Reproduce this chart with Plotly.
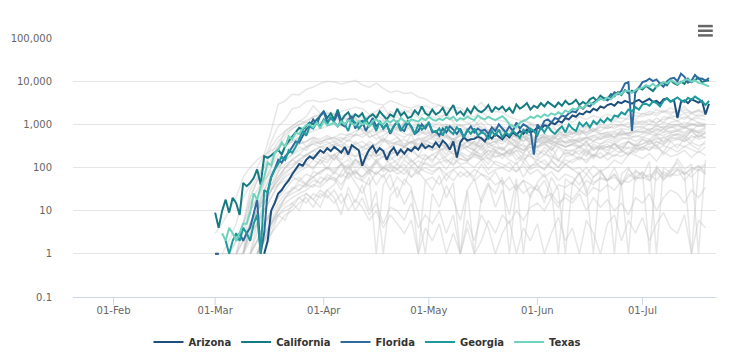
import pandas as pd
import plotly.graph_objects as go

N = None
# daily values, 2020-03-01 .. 2020-07-20
start_day = "2020-03-01"
arizona = [1, 1, N, N, N, N, N,
           N, N, N, N, N, N, N,
           1, 2, 10, 15, 25, 30, 40,
           50, 70, 90, 120, 110, 150, 180,
           160, 200, 250, 220, 280, 240, 300,
           260, 220, 300, 200, 330, 280, 250,
           110, 180, 260, 320, 220, 280, 240,
           150, 230, 290, 200, 260, 210, 270,
           240, 300, 260, 350, 280, 320, 290,
           380, 300, 420, 350, 260, 400, 170,
           380, 500, 420, 450, 460, 520, 480,
           400, 550, 470, 600, 520, 450, 580,
           500, 650, 560, 700, 600, 750, 650,
           700, 850, 780, 950, 900, 1100, 1000,
           1200, 1100, 1400, 1300, 1600, 1500, 1800,
           1700, 2000, 1900, 2300, 2100, 2600, 2400,
           2800, 3000, 2700, 3300, 3100, 3500, 3200,
           3000, 3400, 3700, 3200, 3600, 3900, 3300,
           3500, 3000, 3800, 4000, 3400, 3700, 1400,
           3300, 3600, 3100, 3800, 3500, 3200, 3500,
           1700, 3000]
california = [9, 4, 10, 18, 9, 20, 15,
              8, 44, 37, 44, 57, 90, 40,
              183, 168, 190, 220, 260, 200, 315,
              410, 530, 660, 830, 760, 910, 1100,
              1000, 1300, 1550, 2000, 1400, 1800, 1300,
              2200, 1200, 1600, 1900, 1300, 1700, 1500,
              1800, 1200, 1500, 1700, 1400, 2000, 1600,
              1300, 1700, 1500, 2300, 1600, 1900, 1400,
              1500, 2100, 1700, 2600, 1800, 1600, 2200,
              1700, 1900, 2400, 1600, 2100, 2800, 1700,
              2000, 1600, 2300, 1800, 2600, 2100, 1900,
              2200, 2800, 1900, 2500, 2200, 2600, 2000,
              2400, 1800, 2900, 2300, 2600, 3100, 2200,
              2700, 2400, 3100, 2600, 3300, 2800, 2500,
              3200, 2700, 3500, 2900, 3100, 3700, 2800,
              3300, 2900, 3800, 4200, 3500, 4600, 4000,
              3900, 5000, 4500, 5600, 4800, 6200, 5200,
              6000, 5500, 7100, 6400, 7800, 6800, 5900,
              7500, 8600, 9200, 8000, 10500, 9000, 8200,
              9700, 8600, 11400, 9400, 10800, 12000, 9500,
              10200, 10300]
florida = [1, 1, N, N, N, N, 2,
           3, 2, 3, 4, 8, 18, 1,
           3, 28, 60, 90, 150, 130, 180,
           220, 300, 400, 380, 550, 770, 900,
           1300, 1000, 1600, 2000, 1100, 1400, 1200,
           1800, 1000, 900, 1300, 1500, 800, 1100,
           1200, 700, 1000, 1400, 900, 1100, 800,
           1000, 600, 900, 1200, 800, 700, 1100,
           900, 600, 700, 1000, 800, 1100, 650,
           700, 550, 800, 650, 900, 750, 600,
           800, 500, 700, 900, 650, 800, 700,
           750, 600, 850, 700, 1000, 800, 650,
           900, 700, 1100, 800, 1000, 900, 750,
           200, 1000, 800, 1200, 1300, 1100, 1400,
           1300, 1600, 1500, 1800, 2000, 1900, 2600,
           2300, 2800, 2600, 3200, 3600, 3900, 4000,
           3600, 4100, 5500, 5000, 6000, 8800, 9500,
           700, 6000, 7000, 9500, 10100, 11400, 10000,
           11000, 8800, 7400, 9800, 11400, 12000, 10000,
           15000, 12600, 9200, 10200, 13900, 11400, 11500,
           10300, 11800]
georgia = [N, N, N, 2, 1, 2, 3,
           2, 4, 3, 2, 5, 8, 1,
           30, 26, 60, 90, 120, 180, 150,
           250, 220, 300, 450, 700, 550, 900,
           800, 1100, 900, 1300, 1000, 1500, 1100,
           900, 1200, 1000, 700, 1300, 1100, 800,
           1000, 1400, 900, 1100, 700, 1200, 800,
           1000, 650, 900, 1100, 700, 950, 1200,
           850, 600, 1000, 750, 900, 1100, 700,
           650, 800, 550, 900, 700, 600, 850,
           700, 500, 750, 600, 800, 550, 650,
           600, 450, 700, 550, 750, 500, 650,
           550, 700, 600, 480, 750, 620, 800,
           700, 550, 850, 650, 900, 700, 600,
           750, 900, 650, 1000, 800, 700, 1100,
           900, 1100, 850, 1200, 1000, 1300, 1100,
           1400, 1200, 1600, 1500, 1900, 1700, 2200,
           2000, 2500, 2200, 2900, 3000, 2700, 3400,
           3100, 2600, 3500, 4000, 3300, 3800, 4200,
           3600, 3300, 4100, 3700, 4400, 3900, 3400,
           2800, 3500]
texas = [N, N, 3, 2, 4, 3, 2,
         3, 5, 5, 9, 25, 18, 36,
         60, 130, 110, 220, 250, 380, 300,
         530, 450, 640, 600, 800, 950, 1000,
         850, 1100, 800, 1200, 950, 1000, 1100,
         900, 1150, 1000, 1250, 1050, 950, 1200,
         1000, 1100, 900, 1200, 1300, 1100, 1000,
         1250, 1100, 1300, 1050, 1400, 1200, 1100,
         1300, 1200, 1150, 1400, 1250, 1500, 1300,
         1200, 1350, 1250, 1450, 1300, 1500, 1200,
         1400, 1300, 1500, 1350, 1250, 1600, 1400,
         1300, 1500, 1350, 1250, 1400, 1550, 1300,
         1000, 900, 850, 1100, 1200, 1300, 1500,
         1400, 1600, 1450, 1700, 1550, 1800, 1650,
         1900, 1700, 2100, 1900, 2300, 2200, 2500,
         2400, 2800, 3200, 2900, 3500, 4000, 3600,
         4200, 3800, 4700, 5300, 5000, 5900, 6100,
         5400, 6200, 6700, 7000, 8100, 7500, 8700,
         7300, 8200, 9600, 8900, 10400, 9700, 8600,
         9500, 10600, 11000, 9800, 10400, 9100, 8800,
         8000, 7600]

# other states, every second day from 2020-03-01
others = [
    [1, 1, 2, 5, 20, 40, 100, 200, 700, 2900, 3500, 5000, 4800, 6400, 7300, 8800, 10000, 9500, 8600, 9400, 10500, 8200, 7200, 9000, 6800, 5500, 6000, 5200, 5400, 4300, 3900, 3100, 2800, 2500, 2200, 1900, 1600, 1500, 2100, 1400, 1300, 1200, 1100, 900, 1300, 1000, 900, 1050, 800, 700, 850, 600, 700, 650, 800, 620, 550, 660, 580, 620, 700, 650, 720, 600, 780, 640, 700, 820, 760, 640, 700],
    [N, N, 1, 2, 5, 20, 50, 150, 400, 900, 1300, 2300, 2500, 3400, 3600, 3300, 3500, 4000, 3600, 3800, 3900, 3200, 3600, 3000, 2800, 3500, 3100, 2600, 2400, 2800, 2000, 1900, 1500, 1700, 1200, 1300, 1100, 900, 1400, 1000, 800, 700, 600, 500, 650, 400, 450, 380, 420, 350, 300, 330, 280, 400, 250, 300, 350, 260, 300, 280, 220, 300, 250, 340, 200, 280, 230, 310, 260, 220, 300],
    [N, 1, 1, 2, 5, 10, 20, 40, 100, 200, 300, 460, 600, 550, 900, 1100, 1200, 1300, 1400, 1300, 1500, 1200, 1500, 1700, 1300, 2000, 1600, 2200, 1800, 2500, 2700, 2300, 2800, 2100, 2500, 2400, 1800, 2300, 3200, 2100, 2000, 1900, 1500, 1300, 1200, 1100, 900, 800, 1000, 650, 700, 600, 750, 550, 700, 600, 650, 500, 750, 600, 850, 900, 700, 1000, 800, 1100, 1200, 900, 1300, 1100, 1000],
    [N, N, 1, 1, 5, 30, 60, 100, 200, 400, 600, 800, 1000, 1100, 1000, 1100, 1200, 1500, 2000, 2200, 2500, 2300, 1700, 2000, 2600, 1500, 2000, 1800, 2200, 1400, 1900, 1500, 1300, 1800, 1100, 900, 1000, 1200, 800, 700, 900, 600, 700, 500, 400, 600, 300, 450, 350, 300, 250, 250, 200, 280, 180, 220, 150, 200, 180, 230, 190, 160, 210, 140, 230, 180, 200, 250, 170, 240, 190],
    [N, N, N, 2, 5, 15, 30, 60, 150, 300, 700, 900, 1200, 1100, 1500, 1700, 1900, 1700, 1600, 1500, 1800, 1400, 1600, 1300, 1200, 1400, 1500, 1100, 1200, 1000, 1300, 900, 1100, 800, 950, 700, 800, 650, 700, 600, 550, 500, 450, 600, 400, 500, 380, 450, 350, 420, 400, 450, 380, 500, 420, 460, 500, 600, 550, 650, 700, 800, 750, 900, 850, 950, 1000, 850, 1050, 900, 950],
    [N, N, N, N, 1, 20, 50, 100, 300, 500, 700, 900, 1200, 1500, 2700, 1800, 1500, 1800, 900, 1200, 1400, 700, 500, 600, 400, 700, 500, 300, 600, 250, 400, 350, 500, 300, 450, 300, 400, 250, 500, 300, 350, 600, 400, 300, 500, 350, 400, 600, 500, 700, 550, 800, 600, 900, 700, 1000, 900, 1200, 1100, 1500, 1300, 1800, 1600, 2200, 1900, 2400, 2000, 2600, 1800, 2200, 1900],
    [N, N, N, N, N, 2, 10, 50, 100, 300, 500, 800, 1000, 1200, 1500, 1600, 1800, 1700, 1500, 1300, 1400, 1000, 1100, 800, 900, 1000, 700, 1100, 800, 900, 600, 700, 500, 600, 400, 550, 450, 300, 500, 350, 400, 250, 400, 300, 350, 200, 250, 200, 300, 150, 220, 200, 250, 180, 300, 260, 300, 280, 350, 400, 330, 450, 400, 550, 380, 500, 600, 550, 700, 500, 650],
    [3, 5, 10, 20, 60, 100, 150, 200, 250, 300, 350, 400, 500, 300, 450, 350, 400, 300, 350, 250, 300, 200, 250, 180, 220, 150, 200, 160, 250, 180, 200, 150, 220, 130, 180, 160, 140, 200, 170, 250, 180, 200, 220, 300, 250, 350, 300, 400, 350, 450, 380, 400, 500, 450, 550, 480, 600, 500, 700, 550, 650, 700, 600, 800, 650, 900, 750, 900, 700, 1000, 850],
    [N, N, N, 1, 2, 5, 10, 15, 30, 60, 100, 150, 200, 300, 350, 400, 450, 500, 600, 550, 700, 800, 650, 900, 700, 1000, 850, 1100, 900, 1000, 800, 1100, 900, 1000, 850, 950, 700, 800, 900, 600, 750, 700, 550, 650, 500, 600, 450, 500, 400, 550, 350, 400, 300, 350, 280, 320, 300, 350, 250, 400, 300, 350, 400, 450, 500, 550, 600, 500, 700, 650, 600],
    [N, N, N, N, 1, 5, 10, 30, 60, 150, 250, 300, 350, 400, 500, 400, 450, 500, 400, 600, 550, 1200, 500, 600, 700, 650, 800, 600, 550, 700, 600, 500, 600, 550, 450, 650, 500, 550, 400, 600, 450, 500, 400, 450, 550, 350, 400, 500, 450, 600, 550, 500, 650, 600, 700, 850, 800, 900, 1000, 850, 1100, 1000, 1200, 1100, 1300, 1400, 1200, 1500, 1300, 1400, 1250],
    [N, N, N, N, 1, 3, 5, 15, 30, 80, 200, 250, 350, 400, 500, 450, 550, 450, 500, 400, 600, 500, 650, 450, 550, 700, 600, 500, 650, 550, 700, 550, 600, 500, 450, 550, 400, 500, 450, 350, 400, 450, 350, 400, 300, 350, 300, 400, 250, 350, 300, 350, 300, 400, 250, 350, 400, 350, 450, 500, 400, 500, 450, 600, 550, 650, 700, 600, 750, 650, 800],
    [N, N, N, 1, 2, 5, 10, 15, 30, 50, 80, 100, 150, 200, 250, 300, 350, 400, 450, 500, 550, 600, 700, 650, 750, 800, 850, 700, 900, 800, 1000, 900, 800, 950, 850, 1000, 800, 900, 1100, 700, 850, 900, 750, 800, 700, 900, 600, 500, 550, 450, 500, 400, 450, 500, 400, 550, 500, 450, 600, 550, 500, 600, 650, 700, 750, 800, 900, 850, 1000, 900, 950],
    [N, N, N, 1, 1, 3, 5, 10, 30, 50, 100, 120, 150, 200, 250, 300, 300, 350, 400, 300, 250, 300, 350, 250, 400, 350, 400, 450, 350, 500, 400, 500, 450, 550, 400, 600, 550, 700, 650, 750, 700, 800, 700, 900, 750, 1000, 800, 1000, 1200, 900, 1300, 1100, 1500, 1300, 1600, 1400, 1700, 1500, 1800, 1600, 1900, 1700, 2000, 1800, 2100, 1900, 2000, 2200, 1900, 2100, 1800],
    [N, N, N, N, 1, 5, 10, 20, 50, 100, 150, 200, 250, 300, 350, 300, 250, 350, 300, 200, 400, 300, 250, 350, 500, 300, 400, 300, 250, 450, 350, 300, 400, 250, 350, 300, 400, 350, 300, 450, 400, 350, 500, 400, 550, 450, 500, 600, 450, 700, 550, 600, 750, 650, 800, 700, 900, 800, 1000, 850, 1200, 1100, 1300, 1000, 1500, 1400, 1600, 1300, 1800, 1500, 1700],
    [N, N, N, N, N, 1, 5, 15, 40, 80, 120, 150, 200, 180, 250, 200, 220, 150, 250, 200, 180, 250, 300, 200, 180, 250, 200, 300, 250, 350, 300, 250, 350, 300, 400, 350, 300, 400, 350, 500, 450, 400, 600, 350, 500, 400, 450, 550, 400, 600, 500, 650, 550, 800, 700, 900, 800, 1000, 900, 1100, 1000, 1200, 1000, 1400, 1100, 1600, 1500, 1800, 1300, 1700, 1500],
    [N, N, N, N, 1, 5, 10, 20, 40, 60, 100, 150, 120, 200, 180, 150, 200, 150, 250, 180, 120, 150, 100, 130, 180, 120, 150, 200, 130, 180, 150, 200, 150, 180, 250, 200, 150, 200, 180, 250, 220, 200, 250, 300, 250, 350, 400, 350, 500, 450, 600, 700, 800, 900, 1000, 1100, 1200, 1300, 1400, 1300, 1600, 1500, 1800, 1600, 2000, 1700, 2100, 1900, 1800, 2000, 1700],
    [N, N, N, 1, 3, 10, 20, 50, 80, 100, 150, 200, 300, 250, 400, 350, 500, 400, 300, 450, 350, 400, 300, 350, 450, 400, 500, 350, 400, 300, 450, 350, 400, 300, 350, 250, 300, 250, 200, 300, 250, 200, 250, 150, 200, 180, 150, 200, 180, 150, 120, 150, 180, 130, 200, 170, 200, 250, 220, 300, 270, 300, 350, 400, 330, 450, 500, 400, 550, 450, 500],
    [N, N, N, N, 1, 2, 10, 30, 70, 150, 300, 400, 500, 600, 700, 800, 900, 1000, 1100, 900, 1300, 700, 1000, 800, 1200, 900, 800, 1000, 700, 600, 900, 500, 700, 600, 450, 400, 500, 350, 300, 400, 250, 300, 200, 250, 150, 200, 120, 150, 100, 80, 120, 90, 70, 100, 60, 80, 50, 70, 40, 90, 60, 80, 50, 100, 70, 60, 90, 50, 80, 110, 70],
    [N, N, N, N, 1, 3, 10, 20, 30, 40, 50, 60, 50, 70, 60, 80, 100, 90, 120, 100, 150, 130, 200, 180, 250, 300, 350, 300, 400, 450, 500, 600, 500, 700, 550, 650, 700, 600, 750, 650, 800, 700, 600, 500, 650, 550, 450, 500, 400, 350, 300, 350, 400, 300, 400, 350, 450, 400, 500, 450, 550, 500, 600, 550, 650, 700, 750, 650, 800, 700, 850],
    [N, N, N, N, N, 2, 5, 10, 20, 40, 70, 100, 150, 120, 200, 180, 150, 200, 120, 150, 100, 130, 80, 150, 100, 120, 90, 150, 110, 140, 120, 100, 130, 150, 120, 160, 140, 180, 150, 200, 170, 200, 180, 250, 220, 300, 280, 350, 300, 400, 380, 450, 400, 500, 550, 600, 650, 700, 800, 750, 900, 850, 1000, 900, 1100, 1000, 950, 1100, 1000, 900, 1050],
    [N, N, N, N, N, 1, 2, 5, 10, 20, 30, 50, 60, 40, 80, 70, 100, 80, 120, 90, 150, 100, 70, 130, 80, 110, 90, 120, 60, 100, 80, 70, 100, 50, 90, 110, 80, 60, 120, 70, 90, 100, 80, 130, 60, 110, 120, 90, 150, 100, 180, 200, 150, 250, 180, 300, 250, 350, 300, 400, 280, 450, 350, 500, 400, 600, 550, 450, 700, 500, 650],
    [N, N, N, N, N, N, 1, 3, 5, 10, 20, 25, 30, 40, 35, 60, 50, 80, 60, 100, 70, 120, 90, 150, 180, 200, 250, 300, 400, 350, 500, 450, 400, 500, 350, 450, 300, 400, 250, 350, 300, 280, 200, 350, 250, 300, 200, 250, 150, 300, 200, 250, 300, 200, 350, 280, 300, 350, 250, 400, 320, 350, 450, 300, 500, 400, 450, 550, 400, 600, 500],
    [N, N, N, N, N, 1, 3, 10, 20, 40, 60, 80, 100, 120, 90, 150, 130, 200, 150, 250, 180, 200, 150, 300, 250, 200, 250, 200, 300, 180, 350, 250, 300, 200, 350, 280, 300, 250, 350, 200, 300, 250, 350, 300, 200, 400, 300, 350, 250, 400, 300, 350, 450, 400, 500, 450, 550, 500, 650, 600, 700, 650, 800, 750, 900, 850, 1000, 800, 950, 1100, 900],
    [N, N, N, N, N, 1, 2, 5, 8, 15, 25, 30, 40, 35, 50, 45, 60, 50, 70, 55, 80, 60, 90, 70, 100, 80, 120, 90, 150, 100, 130, 110, 140, 90, 160, 120, 130, 100, 150, 90, 140, 120, 100, 80, 130, 90, 110, 90, 140, 100, 150, 130, 170, 150, 200, 160, 220, 180, 250, 200, 280, 250, 300, 270, 320, 280, 350, 300, 380, 320, 360],
    [N, N, N, N, N, N, 1, 2, 5, 10, 20, 30, 50, 40, 60, 80, 100, 70, 120, 60, 90, 50, 80, 40, 70, 30, 60, 40, 100, 70, 150, 200, 250, 300, 200, 350, 250, 200, 300, 150, 250, 200, 150, 120, 180, 100, 150, 120, 100, 80, 120, 90, 100, 70, 110, 80, 100, 150, 120, 200, 250, 300, 250, 400, 350, 500, 450, 400, 500, 550, 480],
    [N, N, N, N, N, N, 1, 2, 3, 5, 8, 10, 15, 20, 12, 25, 20, 30, 15, 25, 10, 20, 8, 15, 5, 12, 10, 6, 15, 4, 8, 5, 10, 3, 8, 1, 6, 2, 8, 4, 1, 3, 6, 1, 4, 2, 5, 1, 3, 7, 2, 4, 1, 6, 3, 1, 5, 8, 2, 6, 3, 7, 2, 5, 9, 4, 3, 8, 1, 6, 4],
    [N, N, N, N, N, N, N, 1, 3, 8, 12, 15, 20, 25, 18, 30, 22, 15, 25, 10, 18, 12, 6, 10, 4, 8, 5, 3, 6, 1, 4, 2, 5, 1, 3, 1, 4, 1, 2, 6, 3, 8, 5, 10, 6, 12, 15, 10, 20, 12, 25, 18, 30, 22, 35, 28, 40, 30, 50, 45, 60, 55, 70, 50, 80, 65, 90, 70, 100, 85, 110],
    [N, N, N, N, N, 1, 2, 5, 10, 20, 40, 60, 80, 100, 150, 120, 180, 200, 250, 300, 350, 280, 400, 320, 450, 380, 350, 300, 400, 250, 350, 300, 250, 280, 200, 230, 180, 220, 150, 170, 120, 100, 130, 80, 110, 70, 90, 60, 80, 50, 70, 60, 40, 70, 45, 55, 50, 60, 40, 70, 55, 60, 50, 80, 55, 70, 65, 80, 60, 90, 70],
    [N, N, N, N, N, N, 1, 2, 5, 8, 10, 12, 20, 15, 25, 20, 30, 40, 80, 120, 60, 50, 40, 80, 60, 100, 70, 90, 60, 80, 50, 60, 40, 70, 50, 80, 60, 90, 70, 50, 80, 40, 60, 30, 50, 40, 30, 50, 20, 40, 35, 45, 30, 50, 40, 60, 50, 70, 40, 60, 80, 70, 60, 90, 50, 80, 100, 70, 90, 110, 80],
    [N, N, N, N, N, N, 1, 3, 5, 10, 15, 20, 25, 30, 40, 35, 50, 60, 40, 70, 80, 60, 90, 70, 100, 80, 90, 70, 110, 80, 100, 80, 100, 70, 90, 60, 80, 50, 70, 60, 40, 50, 30, 40, 25, 35, 30, 20, 25, 15, 20, 15, 25, 10, 20, 12, 18, 10, 15, 8, 20, 15, 25, 10, 20, 30, 25, 15, 30, 20, 35],
    [N, N, N, N, N, N, 1, 2, 6, 12, 20, 35, 30, 45, 60, 40, 70, 55, 30, 80, 45, 25, 60, 1, 40, 70, 20, 55, 35, 1, 50, 30, 65, 20, 45, 1, 30, 55, 15, 40, 25, 60, 1, 35, 50, 20, 45, 70, 30, 1, 55, 40, 80, 25, 60, 90, 45, 1, 70, 100, 50, 80, 1, 110, 60, 90, 130, 70, 1, 100, 120],
    [N, N, N, N, N, N, N, 1, 4, 8, 6, 15, 10, 25, 18, 12, 30, 20, 8, 35, 15, 40, 10, 28, 1, 22, 35, 14, 30, 9, 1, 25, 12, 38, 18, 6, 30, 1, 20, 45, 12, 30, 8, 55, 1, 25, 40, 15, 60, 30, 1, 45, 70, 35, 1, 80, 50, 100, 40, 1, 90, 60, 140, 1, 100, 75, 160, 90, 120, 1, 150],
    [N, N, N, N, N, N, 1, 3, 10, 25, 40, 70, 90, 120, 100, 150, 90, 180, 130, 70, 160, 110, 200, 140, 90, 180, 120, 220, 150, 100, 190, 130, 250, 160, 110, 210, 150, 260, 170, 120, 230, 160, 280, 190, 130, 250, 170, 300, 200, 140, 260, 190, 330, 230, 160, 300, 210, 380, 250, 190, 350, 260, 420, 300, 230, 400, 280, 480, 330, 260, 420],
]

highlight_names = ["Arizona", "California", "Florida", "Georgia", "Texas"]
highlight_values = [arizona, california, florida, georgia, texas]
highlight_colors = ["#1d4e7c", "#157b80", "#2e6a9e", "#1f9a9b", "#6fd3bd"]

y_tick_values = [0.1, 1, 10, 100, 1000, 10000, 100000]
y_tick_labels = ["0.1", "1", "10", "100", "1,000", "10,000", "100,000"]
x_tick_values = ["2020-02-01", "2020-03-01", "2020-04-01", "2020-05-01", "2020-06-01", "2020-07-01"]
x_tick_labels = ["01-Feb", "01-Mar", "01-Apr", "01-May", "01-Jun", "01-Jul"]

daily_dates = pd.date_range(start_day, periods=len(arizona), freq="D")
other_dates = pd.date_range(start_day, periods=len(others[0]), freq="2D")

fig = go.Figure()
for vals in others:
    fig.add_trace(go.Scatter(x=other_dates, y=vals, mode="lines",
                             line=dict(color="rgba(195,195,195,0.4)", width=1.5),
                             showlegend=False, hoverinfo="skip"))
for name, vals, col in zip(highlight_names, highlight_values, highlight_colors):
    fig.add_trace(go.Scatter(x=daily_dates, y=vals, mode="lines", name=name,
                             line=dict(color=col, width=2)))

fig.update_layout(
    width=726, height=356,
    margin=dict(l=65, r=18, t=30, b=67, autoexpand=False),
    paper_bgcolor="white", plot_bgcolor="white",
    font=dict(family="DejaVu Sans", size=11, color="#666666"),
    showlegend=True,
    legend=dict(orientation="h", x=0.458, xanchor="center",
                yref="container", y=0.062, yanchor="middle",
                font=dict(family="DejaVu Sans", size=10, color="#333333", weight="bold"),
                itemwidth=30, tracegroupgap=0),
    xaxis=dict(type="date", range=["2020-01-20 10:00", "2020-07-22 00:00"],
               tickvals=x_tick_values, ticktext=x_tick_labels,
               showgrid=False, showline=True, linecolor="#ccd6eb", linewidth=1,
               ticks="", zeroline=False, ticklabelstandoff=4,
               tickfont=dict(size=10, color="#666666")),
    yaxis=dict(type="log", range=[-1, 5], tickvals=y_tick_values, ticktext=y_tick_labels,
               showgrid=True, gridcolor="#e6e6e6", gridwidth=1, zeroline=False,
               showline=False, ticks="", ticklabelstandoff=20,
               tickfont=dict(size=10, color="#666666")),
)
# x-axis tick marks at the labelled dates
for tv in x_tick_values:
    fig.add_shape(type="line", xref="x", yref="paper", x0=tv, x1=tv, y0=0, y1=-0.031,
                  line=dict(color="#ccd6eb", width=1))
# context menu icon
for yy in [1.046, 1.028, 1.010]:
    fig.add_shape(type="line", xref="paper", yref="paper", x0=0.972, x1=0.995, y0=yy, y1=yy,
                  line=dict(color="#666666", width=2.5))

fig.write_html("out.html")
